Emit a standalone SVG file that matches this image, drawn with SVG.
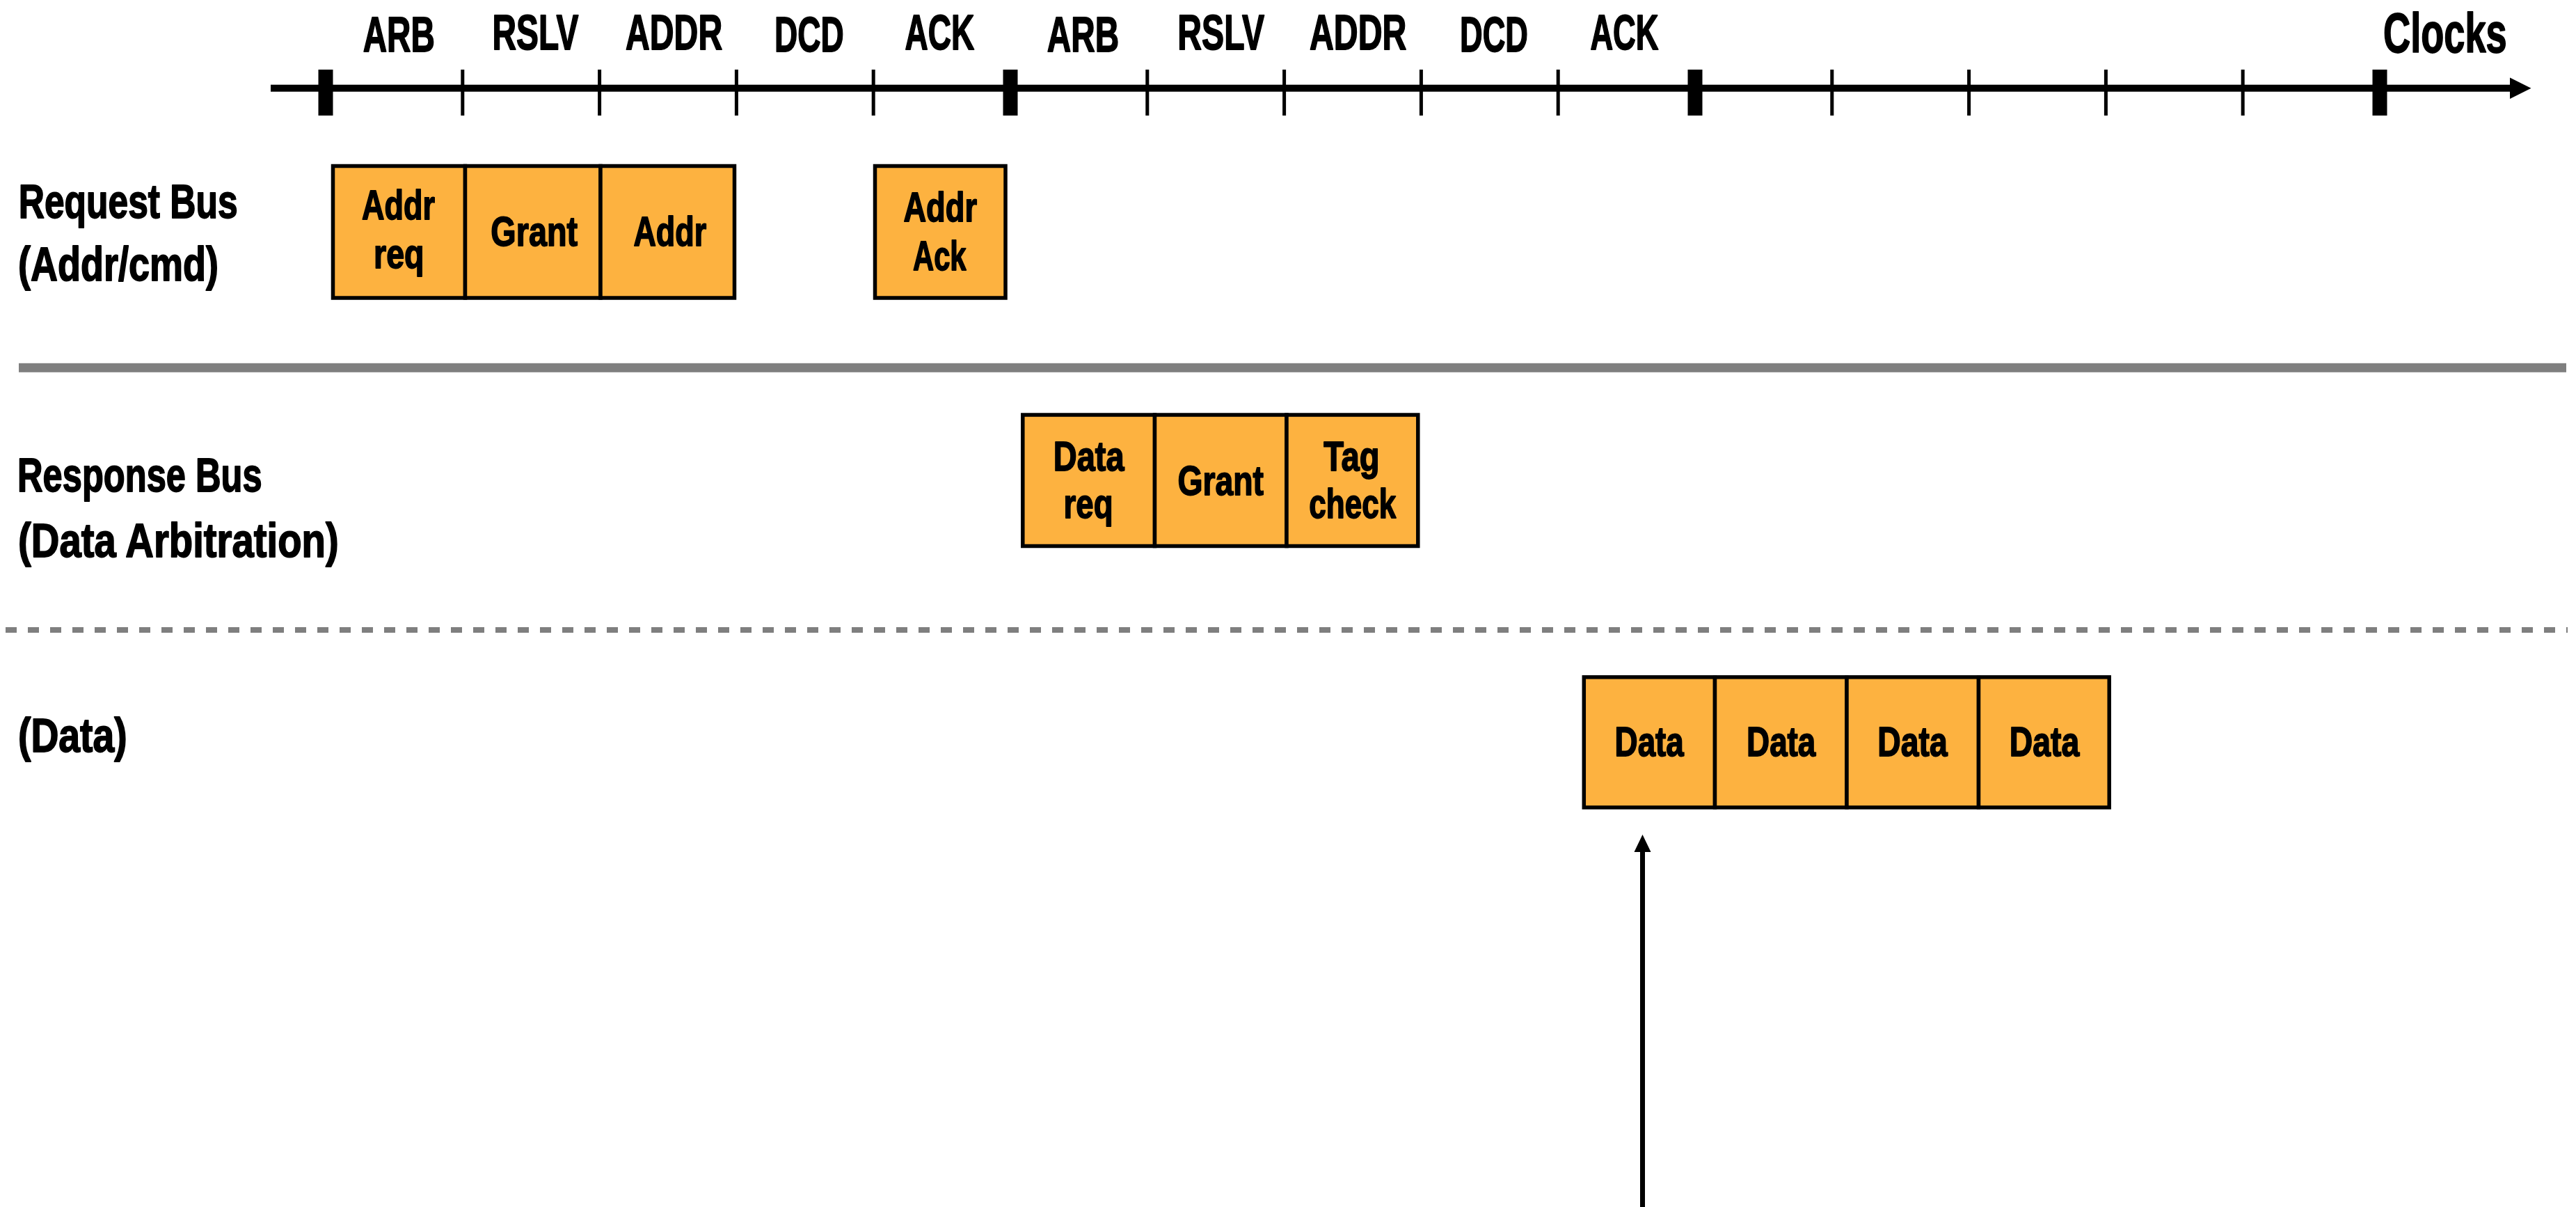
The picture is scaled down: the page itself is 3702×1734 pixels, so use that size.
<svg xmlns="http://www.w3.org/2000/svg" width="3702" height="1734" viewBox="0 0 3702 1734">
<style>
text{font-family:"Liberation Sans Narrow","Liberation Sans",Arial,sans-serif;font-weight:bold;fill:#000;stroke:#000;stroke-width:1.8px;stroke-linejoin:round}
.tick{font-size:70px;text-anchor:middle}
.row{font-size:69px}
.clk{font-size:79px}
.lbl{font-size:60px;text-anchor:middle}
.cell{fill:#FDB240;stroke:#000;stroke-width:5.5}
.bt{fill:#000}
</style>
<rect width="3702" height="1734" fill="#fff"/>
<g id="axis">
<rect x="389" y="121.7" width="3220" height="10" class="bt"/>
<polygon points="3607,111.5 3637.5,126.7 3607,142" class="bt"/>
<g id="ticks">
<rect x="457.5" y="100" width="21" height="66" class="bt"/>
<rect x="662.3" y="100" width="5" height="66" class="bt"/>
<rect x="859.1" y="100" width="5" height="66" class="bt"/>
<rect x="1055.9" y="100" width="5" height="66" class="bt"/>
<rect x="1252.7" y="100" width="5" height="66" class="bt"/>
<rect x="1441.5" y="100" width="21" height="66" class="bt"/>
<rect x="1646.3" y="100" width="5" height="66" class="bt"/>
<rect x="1843.1" y="100" width="5" height="66" class="bt"/>
<rect x="2039.9" y="100" width="5" height="66" class="bt"/>
<rect x="2236.7" y="100" width="5" height="66" class="bt"/>
<rect x="2425.5" y="100" width="21" height="66" class="bt"/>
<rect x="2630.3" y="100" width="5" height="66" class="bt"/>
<rect x="2827.1" y="100" width="5" height="66" class="bt"/>
<rect x="3023.9" y="100" width="5" height="66" class="bt"/>
<rect x="3220.7" y="100" width="5" height="66" class="bt"/>
<rect x="3409.5" y="100" width="21" height="66" class="bt"/>
</g>
<g id="tick-labels">
<text class="tick" x="573.3" y="74" textLength="103.3" lengthAdjust="spacingAndGlyphs">ARB</text>
<text class="tick" x="769.5" y="71" textLength="124" lengthAdjust="spacingAndGlyphs">RSLV</text>
<text class="tick" x="968.6" y="71" textLength="139.3" lengthAdjust="spacingAndGlyphs">ADDR</text>
<text class="tick" x="1162.8" y="74" textLength="99.6" lengthAdjust="spacingAndGlyphs">DCD</text>
<text class="tick" x="1350.4" y="71" textLength="99.6" lengthAdjust="spacingAndGlyphs">ACK</text>
<text class="tick" x="1556.5" y="74" textLength="103.4" lengthAdjust="spacingAndGlyphs">ARB</text>
<text class="tick" x="1754.7" y="71" textLength="124.8" lengthAdjust="spacingAndGlyphs">RSLV</text>
<text class="tick" x="1951.7" y="71" textLength="139.4" lengthAdjust="spacingAndGlyphs">ADDR</text>
<text class="tick" x="2147" y="74" textLength="97.9" lengthAdjust="spacingAndGlyphs">DCD</text>
<text class="tick" x="2334.4" y="71" textLength="98" lengthAdjust="spacingAndGlyphs">ACK</text>
<text class="clk" x="3425" y="75" textLength="177.7" lengthAdjust="spacingAndGlyphs">Clocks</text>
</g>
</g>
<g id="row-labels">
<text class="row" x="26.7" y="312.7" textLength="315" lengthAdjust="spacingAndGlyphs">Request Bus</text>
<text class="row" x="26" y="403.3" textLength="288" lengthAdjust="spacingAndGlyphs">(Addr/cmd)</text>
<text class="row" x="25" y="706" textLength="351.7" lengthAdjust="spacingAndGlyphs">Response Bus</text>
<text class="row" x="26" y="799.5" textLength="460.7" lengthAdjust="spacingAndGlyphs">(Data Arbitration)</text>
<text class="row" x="26" y="1080" textLength="156.7" lengthAdjust="spacingAndGlyphs">(Data)</text>
</g>
<g id="separators">
<rect x="27" y="521.8" width="3661" height="13" fill="#7F7F7F"/>
<line x1="8" y1="905" x2="3690" y2="905" stroke="#7F7F7F" stroke-width="8" stroke-dasharray="16 16"/>
</g>
<g id="addr-req">
<rect class="cell" x="478.5" y="238.5" width="190" height="189.5"/>
<text class="lbl" x="572.5" y="315" textLength="105" lengthAdjust="spacingAndGlyphs">Addr</text>
<text class="lbl" x="573.3" y="385" textLength="72.6" lengthAdjust="spacingAndGlyphs">req</text>
</g>
<g id="req-grant">
<rect class="cell" x="668.5" y="238.5" width="194.5" height="189.5"/>
<text class="lbl" x="767.7" y="352.7" textLength="124.7" lengthAdjust="spacingAndGlyphs">Grant</text>
</g>
<g id="addr">
<rect class="cell" x="863" y="238.5" width="192.5" height="189.5"/>
<text class="lbl" x="962.8" y="352.7" textLength="104.8" lengthAdjust="spacingAndGlyphs">Addr</text>
</g>
<g id="addr-ack">
<rect class="cell" x="1257.5" y="238.5" width="187.5" height="189.5"/>
<text class="lbl" x="1351.2" y="318.3" textLength="105.6" lengthAdjust="spacingAndGlyphs">Addr</text>
<text class="lbl" x="1350.3" y="387.7" textLength="76.6" lengthAdjust="spacingAndGlyphs">Ack</text>
</g>
<g id="data-req">
<rect class="cell" x="1469.8" y="596" width="189.7" height="188.5"/>
<text class="lbl" x="1564.7" y="676" textLength="101.8" lengthAdjust="spacingAndGlyphs">Data</text>
<text class="lbl" x="1564" y="744.3" textLength="71" lengthAdjust="spacingAndGlyphs">req</text>
</g>
<g id="resp-grant">
<rect class="cell" x="1659.5" y="596" width="189.5" height="188.5"/>
<text class="lbl" x="1754.2" y="711" textLength="123.6" lengthAdjust="spacingAndGlyphs">Grant</text>
</g>
<g id="tag-check">
<rect class="cell" x="1849" y="596" width="188.8" height="188.5"/>
<text class="lbl" x="1942.4" y="676" textLength="80.4" lengthAdjust="spacingAndGlyphs">Tag</text>
<text class="lbl" x="1943.8" y="744.3" textLength="125" lengthAdjust="spacingAndGlyphs">check</text>
</g>
<g id="data-1">
<rect class="cell" x="2276.3" y="972.8" width="188.2" height="187.2"/>
<text class="lbl" x="2370.2" y="1086" textLength="99.3" lengthAdjust="spacingAndGlyphs">Data</text>
</g>
<g id="data-2">
<rect class="cell" x="2464.5" y="972.8" width="189.5" height="187.2"/>
<text class="lbl" x="2559.7" y="1086" textLength="99.3" lengthAdjust="spacingAndGlyphs">Data</text>
</g>
<g id="data-3">
<rect class="cell" x="2654" y="972.8" width="189.5" height="187.2"/>
<text class="lbl" x="2748.5" y="1086" textLength="100.4" lengthAdjust="spacingAndGlyphs">Data</text>
</g>
<g id="data-4">
<rect class="cell" x="2843.5" y="972.8" width="187.7" height="187.2"/>
<text class="lbl" x="2938" y="1086" textLength="100.5" lengthAdjust="spacingAndGlyphs">Data</text>
</g>
<g id="connectors">
<line x1="2360.5" y1="1734" x2="2360.5" y2="1222" stroke="#000" stroke-width="7"/>
<polygon points="2348.5,1224 2360.5,1199 2372.5,1224" fill="#000"/>
</g>
</svg>
